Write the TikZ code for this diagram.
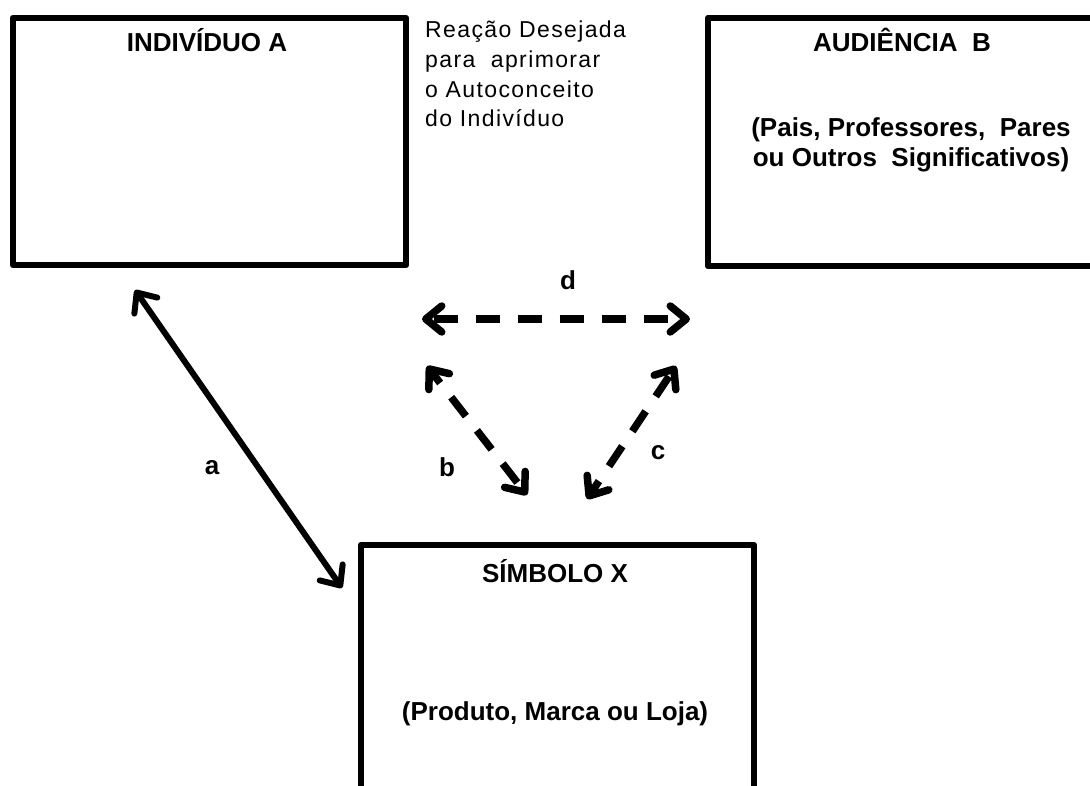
\documentclass[tikz,border=0pt]{standalone}
\usepackage{fontspec}
\setmainfont{Liberation Sans}
\newfontfamily\spacedfont[LetterSpace=6]{Liberation Sans}
\usetikzlibrary{arrows.meta}
\begin{document}
\begin{tikzpicture}[x=1pt,y=-1pt,
  box/.style={draw, line width=6.5pt, line join=round, inner sep=0pt},
  title/.style={font=\fontsize{26}{30}\selectfont\bfseries, anchor=base, inner sep=0pt, align=center},
  lbl/.style={font=\fontsize{26}{30}\selectfont\bfseries, inner sep=0pt},
  dbl/.style={line width=7.5pt, dash pattern=on 24pt off 18pt, dash phase=38pt, {Straight Barb[length=16pt,width=26pt,round]}-{Straight Barb[length=16pt,width=26pt,round]}},
  sol/.style={line width=6pt, {Straight Barb[length=16pt,width=28pt,round]}-{Straight Barb[length=16pt,width=28pt,round]}}
]
\useasboundingbox (0,0) rectangle (1090,786);
\clip (0,0) rectangle (1090,786);
\fill[white] (0,0) rectangle (1090,786);

% boxes
\node[box, minimum width=393pt, minimum height=247pt] (A) at (209.5,141.5) {};
\node[box, minimum width=406pt, minimum height=248pt] (B) at (911,142) {};
\node[box, minimum width=393pt, minimum height=310pt] (X) at (557.5,700) {};

% titles
\node[title] (tA) at (207,52) {INDIVÍDUO A};
\node[title] (tB) at (902,52) {AUDIÊNCIA\ \ B};
\node[title] (sB) at (911,167) {(Pais, Professores,\ \ Pares\\ou Outros\ \ Significativos)};
\node[title] (tX) at (555,582) {SÍMBOLO X};
\node[title] (sX) at (555,720) {(Produto, Marca ou Loja)};

% note
\node[anchor=base west, align=left, inner sep=0pt, font=\spacedfont\fontsize{23}{29.7}\selectfont] (note) at (425,127)
  {Reação Desejada\\para\ \ aprimorar\\o Autoconceito\\do Indivíduo};

% connector end points
\coordinate (a1) at (135,290);
\coordinate (a2) at (342,588);
\coordinate (d1) at (422,319);
\coordinate (d2) at (690,319);
\coordinate (b1) at (427,366);
\coordinate (b2) at (527,495);
\coordinate (c1) at (676,366);
\coordinate (c2) at (587,499);

\draw[sol] (a1) -- (a2);
\draw[dbl] (d1) -- (d2);
\draw[dbl, dash phase=10pt] (b1) -- (b2);
\draw[dbl, dash phase=10pt] (c2) -- (c1);

% labels
\node[lbl] (la) at (212,468) {a};
\node[lbl] (lb) at (447,467) {b};
\node[lbl] (lc) at (658,453) {c};
\node[lbl] (ld) at (568,280) {d};
\end{tikzpicture}
\end{document}
